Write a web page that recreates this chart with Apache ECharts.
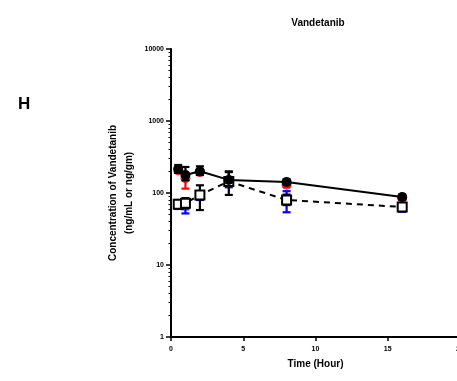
<!DOCTYPE html>
<html><head><meta charset="utf-8">
<script src="https://cdn.jsdelivr.net/npm/echarts@6/dist/echarts.min.js"></script>
<style>html,body{margin:0;padding:0;background:#fff;overflow:hidden}#c{width:457px;height:381px}</style>
</head><body><div id="c"></div>
<script>
var times = [0.5, 1, 2, 4, 8, 16];
var blackCircle = [215, 178, 200, 152, 142, 88];
var blackCircleLow = [190, 150, 178, 130, 130, 82];
var blackCircleHigh = [245, 230, 235, 200, 155, 95];
var redCircle = [205, 160, 195, 148, 130, 85];
var redCircleLow = [190, 115, 180, 130, 122, 80];
var redCircleHigh = [215, 175, 205, 160, 138, 90];
var openSquare = [70, 72, 94, 145, 80, 64];
var openSquareLow = [62, 62, 58, 94, 68, 56];
var openSquareHigh = [80, 85, 128, 195, 95, 70];
var blueSquare = [68, 65, 90, 140, 78, 62];
var blueSquareLow = [60, 52, 80, 120, 54, 55];
var blueSquareHigh = [75, 75, 100, 160, 106, 70];
var yMajor = [1, 10, 100, 1000, 10000];
var xTicks = [0, 5, 10, 15, 20];

var yMinor = [];
yMajor.slice(0, 4).forEach(function (d) { for (var k = 2; k <= 9; k++) yMinor.push(d * k); });

function pts(vals) { return times.map(function (t, i) { return [t, vals[i]]; }); }
function errs(low, high) { return times.map(function (t, i) { return [t, low[i], high[i]]; }); }

function errSeries(low, high, color, z) {
  return {
    type: 'custom', z: z, silent: true,
    data: errs(low, high),
    renderItem: function (params, api) {
      var lo = api.coord([api.value(0), api.value(1)]);
      var hi = api.coord([api.value(0), api.value(2)]);
      var w = 4;
      var st = { stroke: color, lineWidth: 2.2 };
      return { type: 'group', children: [
        { type: 'line', shape: { x1: lo[0], y1: lo[1], x2: hi[0], y2: hi[1] }, style: st },
        { type: 'line', shape: { x1: lo[0] - w, y1: lo[1], x2: lo[0] + w, y2: lo[1] }, style: st },
        { type: 'line', shape: { x1: hi[0] - w, y1: hi[1], x2: hi[0] + w, y2: hi[1] }, style: st }
      ]};
    }
  };
}

var font = 'Liberation Sans, Arial, sans-serif';
var chart = echarts.init(document.getElementById('c'));
chart.setOption({
  animation: false,
  backgroundColor: '#fff',
  title: { text: 'Vandetanib', left: 313, top: 13, textAlign: 'center',
    textStyle: { fontFamily: font, fontSize: 10, fontWeight: 'bold', color: '#000' } },
  graphic: [{ type: 'text', left: 18, top: 96,
    style: { text: 'H', fontFamily: font, fontSize: 17, fontWeight: 'bold', fill: '#000' } }],
  grid: { left: 171, top: 49, width: 289, bottom: 44, containLabel: false, outerBoundsMode: 'none' },
  xAxis: {
    type: 'value', min: 0, max: 20, interval: 5,
    name: 'Time (Hour)', nameLocation: 'middle', nameGap: 22, nameMoveOverlap: false,
    nameTextStyle: { fontFamily: font, fontSize: 10, fontWeight: 'bold', color: '#000' },
    axisLine: { lineStyle: { color: '#000', width: 2 } },
    axisTick: { length: 4, lineStyle: { color: '#000', width: 1.5 } },
    axisLabel: { fontFamily: font, fontSize: 7, fontWeight: 'bold', color: '#000', margin: 9,
      customValues: xTicks, hideOverlap: false },
    splitLine: { show: false }
  },
  yAxis: [{
    type: 'log', logBase: 10, min: 1, max: 10000,
    name: 'Concentration of Vandetanib\n(ng/mL or ng/gm)', nameLocation: 'middle', nameGap: 34,
    nameMoveOverlap: false,
    nameTextStyle: { fontFamily: font, fontSize: 10, fontWeight: 'bold', color: '#000', lineHeight: 16 },
    axisLine: { lineStyle: { color: '#000', width: 2 } },
    axisTick: { length: 5, lineStyle: { color: '#000', width: 1.5 }, customValues: yMajor },
    axisLabel: { fontFamily: font, fontSize: 7, fontWeight: 'bold', color: '#000', margin: 7,
      customValues: yMajor, formatter: function (v) { return String(Math.round(v)); } },
    splitLine: { show: false }
  }, {
    type: 'log', logBase: 10, min: 1, max: 10000, position: 'left',
    axisLine: { show: false },
    axisTick: { length: 2.5, lineStyle: { color: '#000', width: 1 }, customValues: yMinor },
    axisLabel: { show: false },
    splitLine: { show: false }
  }],
  series: [
    errSeries(redCircleLow, redCircleHigh, '#ff0000', 1),
    { type: 'scatter', z: 2, data: pts(redCircle), symbol: 'circle', symbolSize: 10,
      itemStyle: { color: '#ff0000' } },
    errSeries(blueSquareLow, blueSquareHigh, '#0000ff', 1),
    { type: 'scatter', z: 2, data: pts(blueSquare), symbol: 'rect', symbolSize: 8,
      itemStyle: { color: '#0000ff' } },
    errSeries(openSquareLow, openSquareHigh, '#000', 3),
    { type: 'line', z: 4, data: pts(openSquare), symbol: 'rect', symbolSize: 9,
      lineStyle: { color: '#000', width: 2, type: [6, 5] },
      itemStyle: { color: '#fff', borderColor: '#000', borderWidth: 2 } },
    errSeries(blackCircleLow, blackCircleHigh, '#000', 3),
    { type: 'line', z: 5, data: pts(blackCircle), symbol: 'circle', symbolSize: 10,
      lineStyle: { color: '#000', width: 2 },
      itemStyle: { color: '#000', borderColor: '#000', borderWidth: 0 } }
  ]
});
</script></body></html>
